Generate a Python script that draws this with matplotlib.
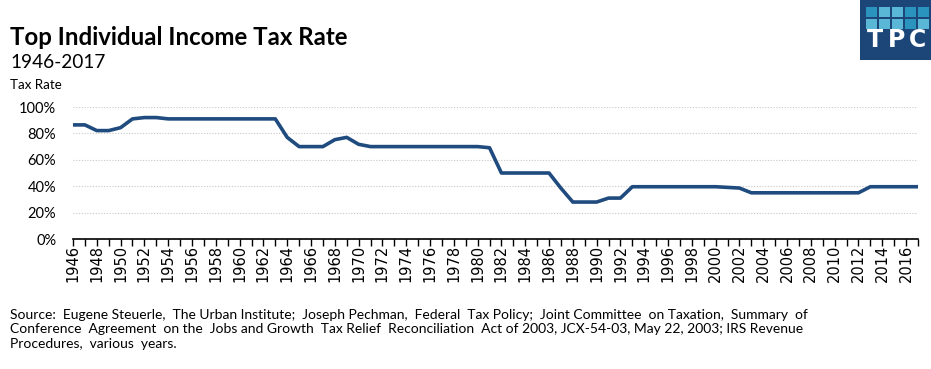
#!/usr/bin/env python3
import numpy as np
from matplotlib import pyplot as plt
from matplotlib.patches import Rectangle

# top marginal rate by year (percent)
years = list(range(1946, 2018))
rates = [86.45, 86.45, 82.13, 82.13, 84.36, 91, 92, 92,
         91, 91, 91, 91, 91, 91, 91, 91, 91, 91,
         77, 70, 70, 70, 75.25, 77, 71.75,
         70, 70, 70, 70, 70, 70, 70, 70, 70, 70, 69.13,
         50, 50, 50, 50, 50, 38.5, 28, 28, 28, 31, 31,
         39.6, 39.6, 39.6, 39.6, 39.6, 39.6, 39.6, 39.6,
         39.1, 38.6,
         35, 35, 35, 35, 35, 35, 35, 35, 35, 35,
         39.6, 39.6, 39.6, 39.6, 39.6]
yticks = [0, 20, 40, 60, 80, 100]
xlabels = list(range(1946, 2017, 2))

title = 'Top Individual Income Tax Rate'
subtitle = '1946-2017'
source = ('Source:  Eugene Steuerle,  The Urban Institute;  Joseph Pechman,  Federal  Tax Policy;  '
          'Joint Committee  on Taxation,  Summary  of\n'
          'Conference  Agreement  on the  Jobs and Growth  Tax Relief  Reconciliation  Act of 2003, '
          'JCX-54-03, May 22, 2003; IRS Revenue\n'
          'Procedures,  various  years.')

plt.rcParams['font.family'] = ['Lato', 'DejaVu Sans']
lineColor = '#1f4b7e'

fig = plt.figure(figsize=(9.31, 3.69), dpi=100)
ax = fig.add_axes([0.0784, 0.3523, 0.9076, 0.3577])
ax.plot(years, rates, color=lineColor, linewidth=2.6, solid_joinstyle='round')

ax.set_xlim(1946, 2017)
ax.set_ylim(0, 100)
ax.set_yticks(yticks)
ax.set_yticklabels(['{}%'.format(v) for v in yticks], fontsize=10.5)
ax.set_xticks(years, minor=True)
ax.set_xticks(xlabels)
ax.set_xticklabels([str(y) for y in xlabels], rotation=90, fontsize=10.5,
                   family='DejaVu Sans')
ax.tick_params(axis='y', length=0, pad=12)
ax.tick_params(axis='x', which='both', length=5, width=1, direction='in', pad=4)
ax.xaxis.set_tick_params(which='both', top=False)
for t in ax.get_xticklines() + ax.xaxis.get_minorticklines():
    t.set_marker(3)  # tick up from axis

ax.grid(axis='y', color='#c8c8c8', linestyle=(0, (1, 1.5)), linewidth=0.8)
ax.set_axisbelow(True)
for s in ['top', 'right', 'left']:
    ax.spines[s].set_visible(False)
ax.spines['bottom'].set_linewidth(1.2)

fig.text(0.011, 0.878, title, fontsize=17.3, fontweight='bold', va='baseline')
fig.text(0.011, 0.815, subtitle, fontsize=13.7, va='baseline')
fig.text(0.011, 0.758, 'Tax Rate', fontsize=9.6, va='baseline')
fig.text(0.011, 0.052, source, fontsize=10, va='bottom', linespacing=1.25)

# TPC logo
logo = fig.add_axes([860 / 931, 1 - 60 / 369, 71 / 931, 60 / 369])
logo.set_xlim(0, 71)
logo.set_ylim(60, 0)
logo.axis('off')
logo.add_patch(Rectangle((0, 0), 71, 60, color='#1b4677'))
colors = [['#2a94bf', '#5ab8d6', '#5ab8d6', '#2a94bf', '#2a94bf'],
          ['#5ab8d6', '#5ab8d6', '#5ab8d6', '#2a94bf', '#5ab8d6']]
for r in range(2):
    for c in range(5):
        logo.add_patch(Rectangle((6 + c * 13, 7 + r * 12), 10.5, 9.5,
                                 color=colors[r][c], linewidth=0))
for i, ch in enumerate('TPC'):
    logo.text(15 + i * 21.5, 40, ch, color='white', fontsize=17, fontweight='bold',
              ha='center', va='center', family='DejaVu Sans')

fig.savefig('out.png', dpi=100)
